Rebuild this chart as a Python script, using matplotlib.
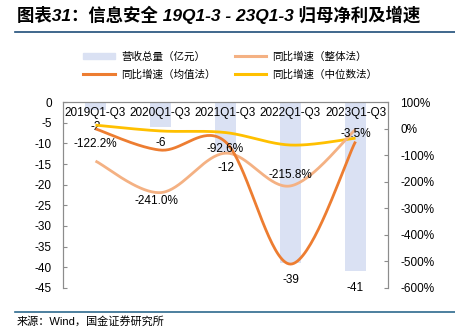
import numpy as np
import matplotlib
matplotlib.use('Agg')
import matplotlib.pyplot as plt
from matplotlib.patches import Patch
from matplotlib.lines import Line2D

plt.rcParams['font.family'] = ['Liberation Sans', 'Noto Sans CJK SC']
plt.rcParams['axes.unicode_minus'] = False

# 数据
categories = ['2019Q1-Q3', '2020Q1-Q3', '2021Q1-Q3', '2022Q1-Q3', '2023Q1-Q3']
revenue = [-2, -6, -12, -39, -41]                     # 营收总量（亿元）
growth_whole = [-122.2, -241.0, -92.6, -215.8, -3.5]   # 同比增速（整体法）
growth_mean = [-1, -81, -50, -510, -49]                # 同比增速（均值法）
growth_median = [13, -9, -15, -62, -36]                # 同比增速（中位数法）
left_ticks = [0, -5, -10, -15, -20, -25, -30, -35, -40, -45]
right_ticks = [100, 0, -100, -200, -300, -400, -500, -600]

c_bar = '#dae1f3'
c_whole = '#f4b183'
c_mean = '#ed7d31'
c_median = '#ffc000'
c_axis = '#8c8c8c'


def excel_smooth(ys, n=40):
  # 类似Excel平滑线的贝塞尔曲线
  xs = np.arange(len(ys), dtype=float)
  ys = np.asarray(ys, dtype=float)
  px, py = [], []
  for i in range(len(ys) - 1):
    i0 = max(i - 1, 0)
    i3 = min(i + 2, len(ys) - 1)
    p1 = np.array([xs[i], ys[i]])
    p2 = np.array([xs[i + 1], ys[i + 1]])
    p0 = np.array([xs[i0], ys[i0]])
    p3 = np.array([xs[i3], ys[i3]])
    c1 = p1 + (p2 - p0) / 6
    c2 = p2 - (p3 - p1) / 6
    t = np.linspace(0, 1, n)[:, None]
    b = (1 - t) ** 3 * p1 + 3 * (1 - t) ** 2 * t * c1 + 3 * (1 - t) * t ** 2 * c2 + t ** 3 * p2
    px.extend(b[:, 0])
    py.extend(b[:, 1])
  return np.array(px), np.array(py)


fig = plt.figure(figsize=(4.56, 3.28), dpi=100)
ax = fig.add_axes([63 / 456, 1 - 288 / 328, (388 - 63) / 456, (288 - 102) / 328])
ax2 = ax.twinx()

x = np.arange(len(categories))
ax.bar(x, revenue, width=0.33, color=c_bar, zorder=1)
ax.set_xlim(-0.5, 4.5)
ax.set_ylim(-45, 0)
ax.set_yticks(left_ticks)
ax.set_yticklabels([str(v) for v in left_ticks])
ax.set_xticks([])

for i, v in enumerate(revenue):
  ax.annotate(str(v), (i, v), xytext=(0, -12), textcoords='offset points',
              ha='center', va='center', fontsize=8.5)
for i, c in enumerate(categories):
  ax.annotate(c, (i, 0), xytext=(0, -8), textcoords='offset points',
              ha='center', va='center', fontsize=8.5)

ax2.set_ylim(-600, 100)
ax2.set_yticks(right_ticks)
ax2.set_yticklabels([f'{v}%' for v in right_ticks])

for series, col in [(growth_median, c_median), (growth_whole, c_whole), (growth_mean, c_mean)]:
  sx, sy = excel_smooth(series)
  ax2.plot(sx, sy, color=col, lw=2.0, solid_capstyle='butt', zorder=3)

whole_offsets = [(0, 12), (-3, -6), (0, 3), (0, 8), (0, -3)]
for i, v in enumerate(growth_whole):
  ax2.annotate(f'{v:.1f}%', (i, v), xytext=whole_offsets[i], textcoords='offset points',
               ha='center', va='center', fontsize=8.5, zorder=5)

for a in (ax, ax2):
  for s in a.spines.values():
    s.set_color(c_axis)
  a.spines['bottom'].set_visible(False)
  a.tick_params(axis='y', direction='in', length=3, color=c_axis, labelsize=8.5, pad=8)
ax2.tick_params(axis='y', pad=9)

# 图例
handles = [Patch(color=c_bar), Line2D([], [], color=c_mean, lw=2.2),
           Line2D([], [], color=c_whole, lw=2.2), Line2D([], [], color=c_median, lw=2.2)]
labels = ['营收总量（亿元）', '同比增速（均值法）', '同比增速（整体法）', '同比增速（中位数法）']
fig.legend(handles, labels, ncol=2, loc='center', bbox_to_anchor=(0.505, 0.80),
           frameon=False, fontsize=7.6, handlelength=3.0, handleheight=0.6,
           columnspacing=1.8, labelspacing=0.75, handletextpad=0.6)

# 标题和来源
fig.text(17 / 456, 1 - 15 / 328, '图表31：信息安全 19Q1-3 - 23Q1-3 归母净利及增速',
         fontsize=12.5, fontweight='bold', style='italic', va='center', ha='left')
fig.add_artist(Line2D([15 / 456, 1], [1 - 32 / 328] * 2, color='#1f4e79', lw=1.2))
fig.add_artist(Line2D([15 / 456, 1], [1 - 312 / 328] * 2, color='#2e6a8e', lw=1.2))
fig.text(17 / 456, 1 - 321 / 328, '来源：Wind，国金证券研究所', fontsize=8, va='center', ha='left')

fig.savefig('out.png', dpi=100)
